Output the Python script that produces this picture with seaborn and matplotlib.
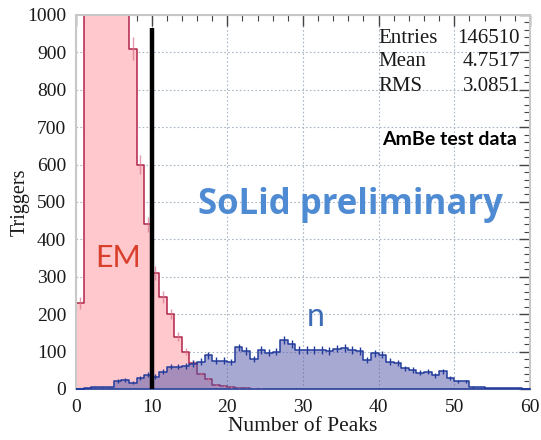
import numpy as np
import pandas as pd
import matplotlib
matplotlib.use("Agg")
import matplotlib.pyplot as plt
from matplotlib.ticker import MultipleLocator
import seaborn as sns

# One bin per integer number of peaks, 0..60
n_bins = 60
x_range = (0, 60)

# EM-like triggers per bin (bins 1-6 run off the top of the frame)
em_counts = [230, 4200, 6800, 7600, 6400, 4300, 2200, 910, 600, 440,
             310, 245, 200, 140, 100, 70, 40, 27, 11, 8,
             5, 3, 2, 1, 1, 0, 0, 0, 0, 0,
             0, 0, 0, 0, 0, 0, 0, 0, 0, 0,
             0, 0, 0, 0, 0, 0, 0, 0, 0, 0,
             0, 0, 0, 0, 0, 0, 0, 0, 0, 0]

# Neutron-like triggers per bin
n_counts = [1, 2, 4, 4, 4, 21, 24, 16, 29, 38,
            33, 46, 60, 60, 62, 68, 73, 90, 76, 76,
            72, 111, 102, 80, 105, 97, 100, 131, 121, 104,
            104, 105, 105, 102, 108, 110, 104, 102, 77, 95,
            92, 73, 69, 55, 51, 44, 46, 36, 47, 30,
            20, 20, 5, 4, 2, 2, 2, 2, 2, 0]

stats_names = ["Entries", "Mean", "RMS"]
stats_values = ["146510", "4.7517", "3.0851"]

cut_value = 10
cut_top = 965

centers = np.arange(n_bins) + 0.5
df = pd.DataFrame({"peaks": centers, "em": em_counts, "n": n_counts})

sns.set_style("white")
serif = "Liberation Serif"
plt.rcParams["font.family"] = [serif, "DejaVu Serif"]

fig = plt.figure(figsize=(5.41, 4.40), dpi=100)
ax = fig.add_axes([0.1405, 0.116, 0.839, 0.850])

# EM histogram (pink) then neutron histogram (blue, translucent) on top
sns.histplot(data=df, x="peaks", weights="em", bins=n_bins, binrange=x_range,
             element="step", fill=True, color="#FFC8CD", alpha=1.0,
             edgecolor="#B0244A", linewidth=1.1, ax=ax, zorder=2)
sns.histplot(data=df, x="peaks", weights="n", bins=n_bins, binrange=x_range,
             element="step", fill=True, color="#5155A9", alpha=0.5,
             edgecolor="#233C9C", linewidth=1.1, ax=ax, zorder=3)

# Poisson error bars at bin centres
em_arr = np.array(em_counts, dtype=float)
n_arr = np.array(n_counts, dtype=float)
m = em_arr > 0
ax.errorbar(centers[m], em_arr[m], yerr=np.sqrt(em_arr[m]), fmt="none",
            ecolor="#D9708A", elinewidth=1.0, capsize=0, alpha=0.7, zorder=4)
m = n_arr > 0
ax.errorbar(centers[m], n_arr[m], yerr=np.sqrt(n_arr[m]), fmt="none",
            ecolor="#233C9C", elinewidth=1.0, capsize=0, zorder=4)

# Selection cut
ax.vlines(cut_value, 0, cut_top, color="black", linewidth=3.2, zorder=6)

ax.set_xlim(*x_range)
ax.set_ylim(0, 1000)

ax.xaxis.set_major_locator(MultipleLocator(10))
ax.xaxis.set_minor_locator(MultipleLocator(2))
ax.yaxis.set_major_locator(MultipleLocator(100))
ax.yaxis.set_minor_locator(MultipleLocator(20))
ax.tick_params(which="both", direction="in", top=True, right=True,
               color="#444444", labelsize=14, labelcolor="#1a1a1a",
               labelfontfamily=serif)
ax.tick_params(which="major", length=8, width=1.0, pad=7)
ax.tick_params(which="minor", length=4.5, width=0.8)

ax.grid(True, which="major", linestyle=(0, (1.5, 2)), color="#A9B6C6",
        linewidth=0.8)
ax.set_axisbelow(True)
for s in ax.spines.values():
    s.set_color("#C8C8C8")
    s.set_linewidth(1.5)

ax.set_xlabel("Number of Peaks", fontsize=15.5, color="#1a1a1a",
              family=serif, labelpad=1)
ax.set_ylabel("Triggers", fontsize=14.5, color="#1a1a1a", family=serif)
ax.yaxis.set_label_coords(-0.102, 0.5)

# Statistics block
for i, (name, val, yy) in enumerate(zip(stats_names, stats_values,
                                        [938, 876, 810])):
    ax.text(40.0, yy, name, fontsize=15, color="#1a1a1a", va="center",
            ha="left", family=serif, zorder=7)
    ax.text(58.7, yy, val, fontsize=15, color="#1a1a1a", va="center",
            ha="right", family=serif, zorder=7)

lato = ["Lato", "DejaVu Sans"]
opensans = ["Open Sans", "DejaVu Sans"]
ax.text(49.4, 668, "AmBe test data", fontsize=14, fontweight="bold",
        family=lato, color="black", ha="center", va="center", zorder=7)
ax.text(36.3, 493, "SoLid preliminary", fontsize=25, fontweight="bold",
        family=opensans, color="#4F8BD3", ha="center", va="center", zorder=7)
ax.text(5.6, 351, "EM", fontsize=22, family=lato, color="#D9402B",
        ha="center", va="center", zorder=7)
ax.text(31.7, 192, "n", fontsize=23, family=lato, color="#3E6DB5",
        ha="center", va="center", zorder=7)

fig.savefig("out.png", dpi=100)
